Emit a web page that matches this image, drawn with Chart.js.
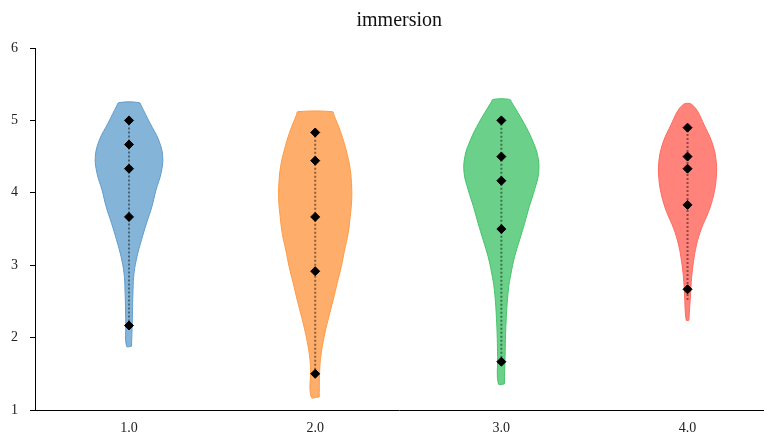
<!DOCTYPE html>
<html>
<head>
<meta charset="utf-8">
<script src="https://cdn.jsdelivr.net/npm/chart.js@4.4.1/dist/chart.umd.min.js"></script>
<style>
  html, body { margin: 0; padding: 0; background: #fff; }
  #wrap { width: 769px; height: 434px; }
</style>
</head>
<body>
<div id="wrap"><canvas id="chart"></canvas></div>
<script>
// Categories on the x axis and the marked values of each group.
const categories = [1, 2, 3, 4];
const points1 = [5.0, 4.667, 4.333, 3.667, 2.167];
const points2 = [4.833, 4.444, 3.667, 2.917, 1.5];
const points3 = [5.0, 4.5, 4.167, 3.5, 1.667];
const points4 = [4.9, 4.5, 4.333, 3.833, 2.667];

// Range of the dotted line in each violin.
const lineLow = [2.167, 1.5, 1.667, 2.52];
const lineHigh = [5.0, 4.833, 5.0, 4.9];

// Violin profiles: levels (y) and half widths (in category units).
const levels1 = [1.88, 2.2, 2.66, 2.89, 3.12, 3.35, 3.58, 3.81, 4.04, 4.27, 4.5, 4.73, 4.96, 5.2, 5.245];
const widths1 = [0.0134, 0.0172, 0.0215, 0.0268, 0.043, 0.067, 0.094, 0.123, 0.145, 0.172, 0.181, 0.159, 0.113, 0.066, 0.055];
const levels2 = [1.18, 1.6, 1.83, 2.06, 2.29, 2.52, 2.75, 2.98, 3.21, 3.44, 3.67, 3.9, 4.13, 4.36, 4.59, 4.83, 5.08, 5.12];
const widths2 = [0.0215, 0.025, 0.035, 0.052, 0.0735, 0.0966, 0.118, 0.14, 0.158, 0.177, 0.188, 0.196, 0.195, 0.186, 0.166, 0.138, 0.1, 0.094];
const levels3 = [1.36, 1.74, 2.2, 2.66, 2.89, 3.12, 3.35, 3.58, 3.81, 4.04, 4.27, 4.5, 4.73, 4.96, 5.25, 5.29];
const widths3 = [0.016, 0.02, 0.025, 0.0376, 0.052, 0.0714, 0.098, 0.125, 0.15, 0.178, 0.2, 0.196, 0.166, 0.122, 0.055, 0.0446];
const levels4 = [2.24, 2.59, 2.82, 3.05, 3.28, 3.51, 3.74, 3.97, 4.2, 4.43, 4.66, 4.89, 5.21];
const widths4 = [0.007, 0.016, 0.0215, 0.032, 0.048, 0.075, 0.113, 0.14, 0.154, 0.154, 0.136, 0.098, 0.028];

const yTicks = [1, 2, 3, 4, 5, 6];

const fills = ["#84b4d8", "#ffad6b", "#6bd089", "#ff837a"];
const edges = ["#5f9ccd", "#ff9a45", "#45c46a", "#ff6a5f"];
const serif = "'Liberation Serif', 'Times New Roman', serif";

// Closed outline: right side going up, then left side coming down.
function violinOutline(center, levels, widths) {
    let right = levels.map((v, i) => ({x: center + widths[i], y: v}));
    let left = levels.map((v, i) => ({x: center - widths[i], y: v})).reverse();
    return right.concat(left, [right[0]]);
}

const allPoints = [points1, points2, points3, points4];
const allLevels = [levels1, levels2, levels3, levels4];
const allWidths = [widths1, widths2, widths3, widths4];

let datasets = [];

// diamonds on top
allPoints.forEach((pts, i) => {
    datasets.push({
        type: "scatter",
        data: pts.map(v => ({x: categories[i], y: v})),
        pointStyle: "rectRot",
        pointRadius: 4.5,
        backgroundColor: "#000",
        borderColor: "#000",
        borderWidth: 1,
        order: 0
    });
});

// dotted lines
categories.forEach((c, i) => {
    datasets.push({
        type: "line",
        data: [{x: c, y: lineLow[i]}, {x: c, y: lineHigh[i]}],
        borderColor: "rgba(0,0,0,0.45)",
        borderWidth: 2,
        borderDash: [2, 2],
        pointRadius: 0,
        fill: false,
        order: 1
    });
});

// violin bodies
categories.forEach((c, i) => {
    datasets.push({
        type: "line",
        data: violinOutline(c, allLevels[i], allWidths[i]),
        backgroundColor: fills[i],
        borderColor: edges[i],
        borderWidth: 1,
        pointRadius: 0,
        tension: 0.4,
        fill: "shape",
        order: 2
    });
});

let ctx = document.getElementById("chart").getContext("2d");
new Chart(ctx, {
    type: "scatter",
    data: {datasets: datasets},
    options: {
        responsive: true,
        maintainAspectRatio: false,
        animation: false,
        layout: {padding: 0},
        plugins: {
            legend: {display: false},
            tooltip: {enabled: false},
            title: {
                display: true,
                fullSize: false,
                text: "immersion",
                color: "#111",
                font: {family: serif, size: 20, weight: "normal"},
                padding: {top: 9, bottom: 15}
            }
        },
        scales: {
            x: {
                type: "linear",
                min: 0.495,
                max: 4.408,
                afterBuildTicks: axis => { axis.ticks = categories.map(v => ({value: v})); },
                afterFit: axis => { axis.height = 24; },
                grid: {display: false},
                border: {display: true, color: "#000", width: 1},
                ticks: {
                    padding: 2,
                    color: "#222",
                    font: {family: serif, size: 14},
                    callback: v => Number(v).toFixed(1)
                }
            },
            y: {
                type: "linear",
                min: 1,
                max: 6,
                afterBuildTicks: axis => { axis.ticks = yTicks.map(v => ({value: v})); },
                afterFit: axis => { axis.width = 35; },
                grid: {drawOnChartArea: false, drawTicks: true, tickLength: 5, color: "#000"},
                border: {display: true, color: "#000", width: 1},
                ticks: {
                    padding: 12,
                    color: "#222",
                    font: {family: serif, size: 14}
                }
            }
        }
    }
});
</script>
</body>
</html>
